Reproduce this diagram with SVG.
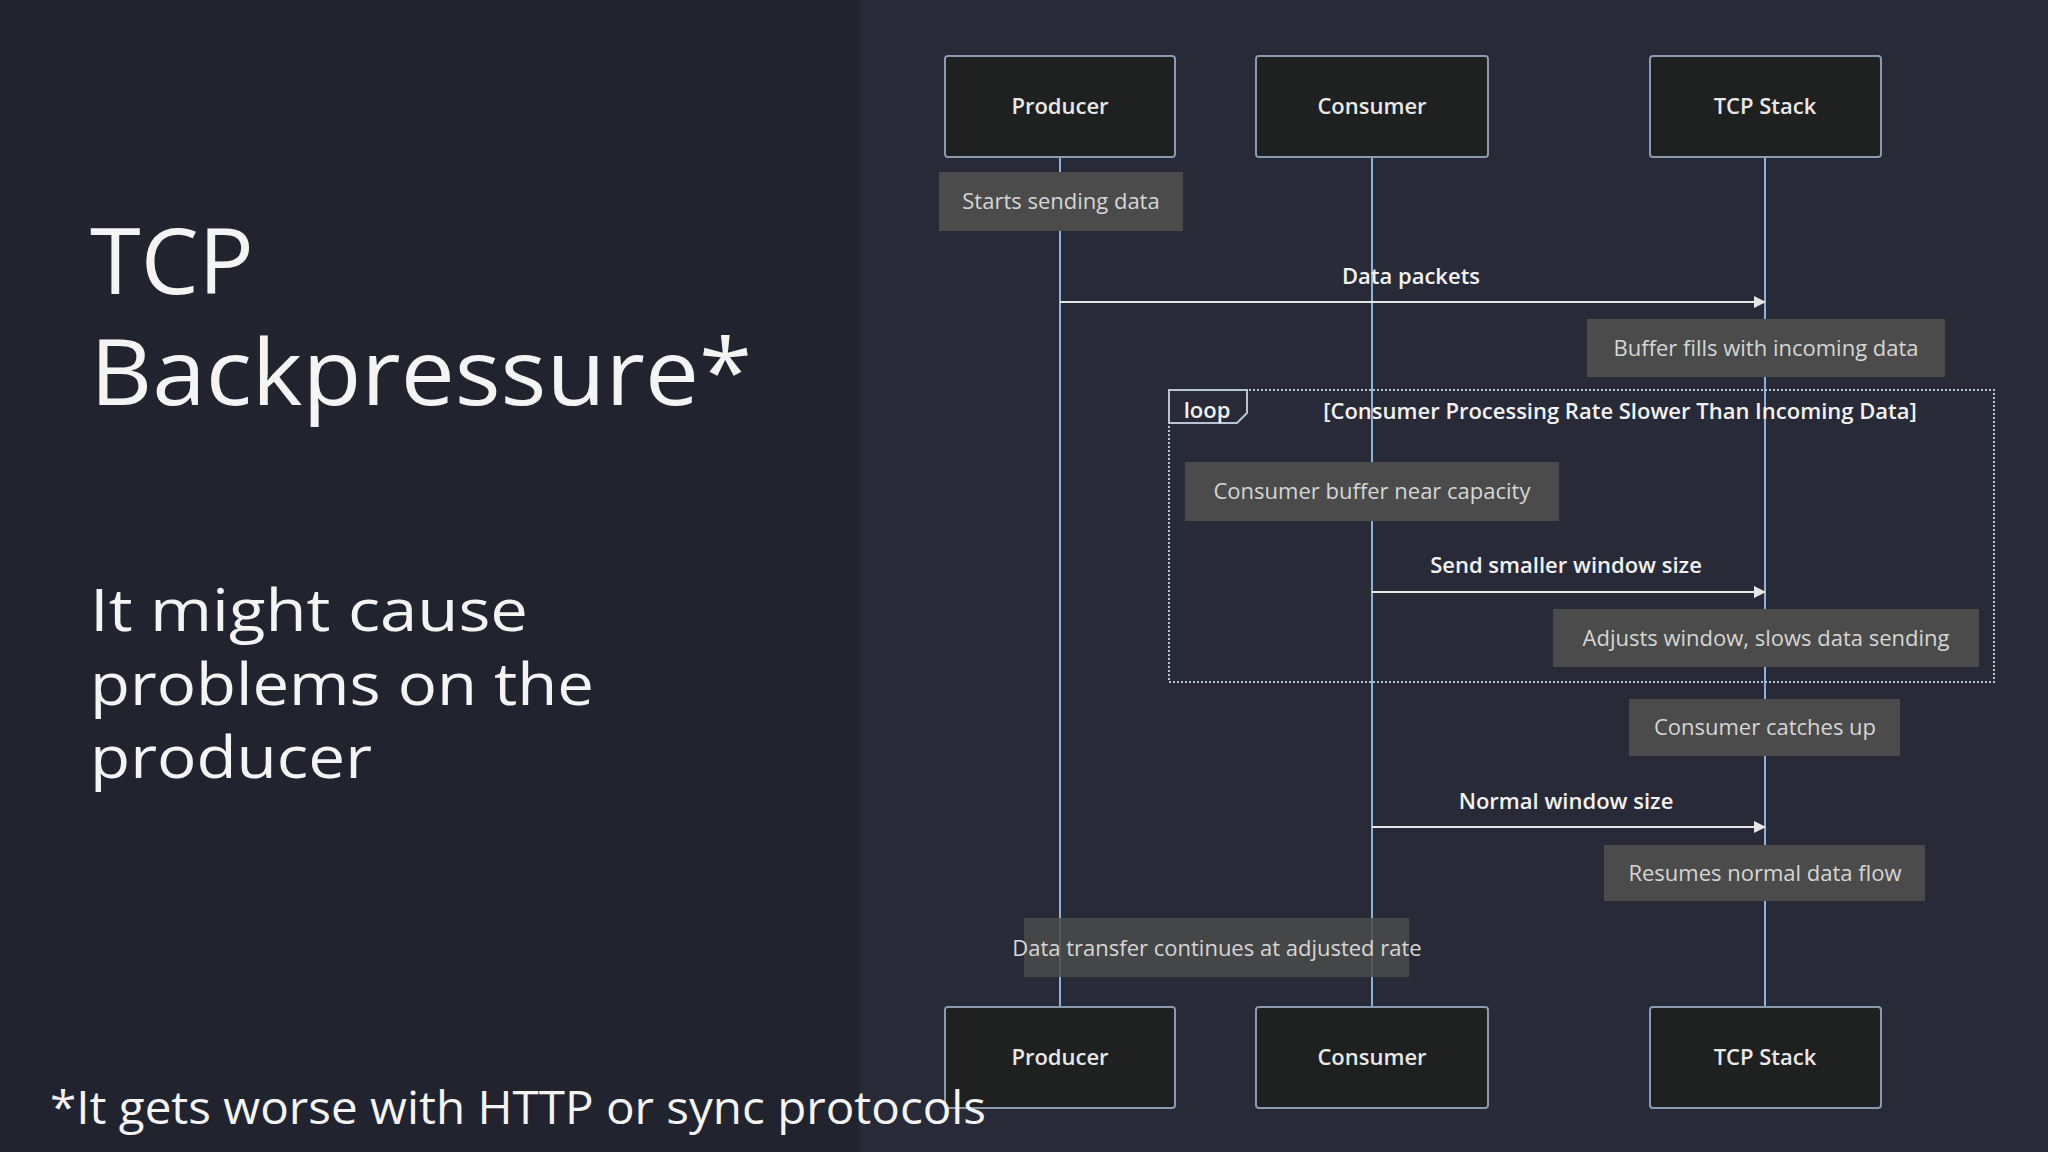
<svg xmlns="http://www.w3.org/2000/svg" width="2048" height="1152" viewBox="0 0 2048 1152">
<defs>
<marker id="ah" markerWidth="12" markerHeight="12" refX="11" refY="6" orient="auto" markerUnits="userSpaceOnUse"><path d="M0,0 L12,6 L0,12 z" fill="#e6e6e6"/></marker>
<style>
.actor rect{fill:#1f2020;stroke:#8a9bb0;stroke-width:2}
.actor text{fill:#e8e8e8;font-family:"Open Sans",sans-serif;font-size:22px;font-weight:600;text-anchor:middle}
.note rect{fill:#4a4b4a}
.note text{fill:#d6d6d6;font-family:"Open Sans",sans-serif;font-size:22px;text-anchor:middle}
.life{stroke:#8fb0d8;stroke-width:2}
.msg{stroke:#e6e6e6;stroke-width:2;marker-end:url(#ah)}
.mlabel{fill:#f2f2f2;font-family:"Open Sans",sans-serif;font-size:22px;font-weight:600;text-anchor:middle}
.big{fill:#f4f4f4;font-family:"Open Sans",sans-serif}
</style>
</defs>
<rect width="2048" height="1152" fill="#21232f"/>
<rect x="860" width="1188" height="1152" fill="#282a37"/>
<text class="big" x="90" y="294" font-size="92">TCP</text>
<text class="big" x="90" y="405" font-size="92" textLength="662" lengthAdjust="spacingAndGlyphs">Backpressure*</text>
<text class="big" x="90" y="631" font-size="58" textLength="438" lengthAdjust="spacingAndGlyphs">It might cause</text>
<text class="big" x="90" y="705" font-size="58" textLength="504" lengthAdjust="spacingAndGlyphs">problems on the</text>
<text class="big" x="90" y="778" font-size="58" textLength="282" lengthAdjust="spacingAndGlyphs">producer</text>
<g id="lifelines">
<line class="life" x1="1060" y1="157" x2="1060" y2="1007"/>
<line class="life" x1="1372" y1="157" x2="1372" y2="1007"/>
<line class="life" x1="1765" y1="157" x2="1765" y2="1007"/>
</g>
<g id="loop">
<rect x="1169" y="390" width="825" height="292" fill="none" stroke="#b8c4d4" stroke-width="2" stroke-dasharray="2,2"/>
<path d="M1169,390 H1247 V413 L1237,423 H1169 Z" fill="#282a37" stroke="#b8c4d4" stroke-width="2"/>
<text class="mlabel" x="1207" y="418">loop</text>
<text class="mlabel" x="1620" y="419">[Consumer Processing Rate Slower Than Incoming Data]</text>
</g>
<g id="connectors">
<line class="msg" x1="1060" y1="302" x2="1765" y2="302"/>
<text class="mlabel" x="1411" y="284">Data packets</text>
<line class="msg" x1="1372" y1="592" x2="1765" y2="592"/>
<text class="mlabel" x="1566" y="573">Send smaller window size</text>
<line class="msg" x1="1372" y1="827" x2="1765" y2="827"/>
<text class="mlabel" x="1566" y="809">Normal window size</text>
</g>
<g id="n1" class="note"><rect x="939" y="172" width="244" height="59"/><text x="1061" y="209">Starts sending data</text></g>
<g id="n2" class="note"><rect x="1587" y="319" width="358" height="58"/><text x="1766" y="356">Buffer fills with incoming data</text></g>
<g id="n3" class="note"><rect x="1185" y="462" width="374" height="59"/><text x="1372" y="499">Consumer buffer near capacity</text></g>
<g id="n4" class="note"><rect x="1553" y="609" width="426" height="58"/><text x="1766" y="646">Adjusts window, slows data sending</text></g>
<g id="n5" class="note"><rect x="1629" y="699" width="271" height="57"/><text x="1765" y="735">Consumer catches up</text></g>
<g id="n6" class="note"><rect x="1604" y="845" width="321" height="56"/><text x="1765" y="881">Resumes normal data flow</text></g>
<g id="n7" class="note"><rect x="1024" y="918" width="385" height="59" fill-opacity="0.85"/><text x="1217" y="956">Data transfer continues at adjusted rate</text></g>
<g id="producer-top" class="actor"><rect x="945" y="56" width="230" height="101" rx="3"/><text x="1060" y="114">Producer</text></g>
<g id="consumer-top" class="actor"><rect x="1256" y="56" width="232" height="101" rx="3"/><text x="1372" y="114">Consumer</text></g>
<g id="tcp-top" class="actor"><rect x="1650" y="56" width="231" height="101" rx="3"/><text x="1765" y="114">TCP Stack</text></g>
<g id="producer-bottom" class="actor"><rect x="945" y="1007" width="230" height="101" rx="3"/><text x="1060" y="1065">Producer</text></g>
<g id="consumer-bottom" class="actor"><rect x="1256" y="1007" width="232" height="101" rx="3"/><text x="1372" y="1065">Consumer</text></g>
<g id="tcp-bottom" class="actor"><rect x="1650" y="1007" width="231" height="101" rx="3"/><text x="1765" y="1065">TCP Stack</text></g>
<text class="big" x="50" y="1124" font-size="46" textLength="936" lengthAdjust="spacingAndGlyphs">*It gets worse with HTTP or sync protocols</text>
</svg>
